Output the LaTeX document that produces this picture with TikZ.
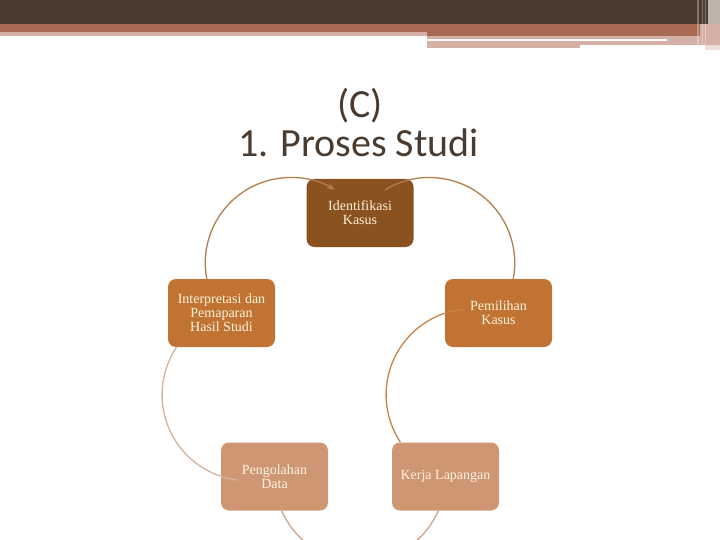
\documentclass[tikz,border=0pt]{standalone}
\usepackage{fontspec}
\setmainfont{Liberation Serif}
\newfontfamily\titlefont{Carlito}
\usetikzlibrary{calc,arrows.meta}
\definecolor{hdark}{HTML}{4B3B2F}
\definecolor{hrust}{HTML}{A86A53}
\definecolor{hpink}{HTML}{D4B0A6}
\definecolor{hgrey}{HTML}{BDB4AD}
\definecolor{hpale}{HTML}{EDE0DC}
\definecolor{titlebrown}{HTML}{4A3B30}
\definecolor{cdark}{HTML}{8A521E}
\definecolor{cmid}{HTML}{C17333}
\definecolor{clight}{HTML}{CF9674}
\definecolor{cream}{HTML}{FFF3DC}
\definecolor{arcA}{HTML}{B27C4D}
\definecolor{arcC}{HTML}{C8834A}
\definecolor{arcD}{HTML}{CFA58A}
\definecolor{arcE}{HTML}{D3B3A0}
\tikzset{
  box/.style={rounded corners=8pt, minimum width=107pt, minimum height=68pt,
    inner sep=0pt, align=center, text=cream, font=\fontsize{14}{14}\selectfont},
  titletext/.style={anchor=base, text=titlebrown, font=\titlefont\fontsize{40}{40}\selectfont},
  cyc/.style={line width=1.3pt}
}
\begin{document}
\begin{tikzpicture}[x=1pt,y=-1pt]
\useasboundingbox (0,0) rectangle (720,540);
\clip (0,0) rectangle (720,540);
% header
\fill[hdark] (0,0) rectangle (720,24);
\fill[hrust] (0,24) rectangle (720,32);
\fill[hrust] (427,32) rectangle (707,36.5);
\fill[hpink] (0,32) rectangle (427,36);
\fill[hpink] (427,36.5) rectangle (707,39);
\fill[white] (427,39) rectangle (667,41.5);
\fill[hpink] (667,39) rectangle (707,45.5);
\fill[hpink] (427,41.5) rectangle (580,48);
\fill[hpink] (580,41.5) rectangle (667,45.5);
\fill[hgrey] (708,0) rectangle (720,24);
\fill[hpink] (700,24) rectangle (720,45);
\fill[hpale] (705,45) rectangle (720,50);
\fill[white,opacity=.3] (697,0) rectangle (698.5,45);
\fill[white,opacity=.3] (702,0) rectangle (703,45);
\fill[white,opacity=.3] (705,0) rectangle (706,45);
% title
\node[titletext] (t1) at (360,118) {(C)};
\node[titletext] (t2) at (358.5,157) {1. Proses Studi};
% boxes
\node[box, fill=cdark] (iden) at (360,213) {Identifikasi\\Kasus};
\node[box, fill=cmid] (interp) at (221.5,313) {Interpretasi dan\\Pemaparan\\Hasil Studi};
\node[box, fill=cmid] (pem) at (498.5,313) {Pemilihan\\Kasus};
\node[box, fill=clight] (peng) at (274.5,476.5) {Pengolahan\\Data};
\node[box, fill=clight] (kerja) at (445.5,476.5) {Kerja Lapangan};
% arc centres
\coordinate (mA) at ($(interp.center)!0.5!(iden.center)$);
\coordinate (mB) at ($(iden.center)!0.5!(pem.center)$);
\coordinate (mC) at ($(pem.center)!0.5!(kerja.center)$);
\coordinate (mD) at ($(kerja.center)!0.5!(peng.center)$);
\coordinate (mE) at ($(peng.center)!0.5!(interp.center)$);
% arcs
\draw[cyc, arcA, -{Stealth[length=8pt,width=6pt]}] (mA) ++(169.2:85.5) arc[start angle=169.2, end angle=301, radius=85.5];
\draw[cyc, arcA] (mB) ++(238.8:85.5) arc[start angle=238.8, end angle=370.8, radius=85.5];
\draw[cyc, arcC] (mC) ++(265.4:85.9) arc[start angle=265.4, end angle=146.5, radius=85.9];
\draw[cyc, arcD] (mD) ++(23.8:85.5) arc[start angle=23.8, end angle=156.2, radius=85.5];
\draw[cyc, arcE] (mE) ++(96.8:85.9) arc[start angle=96.8, end angle=214, radius=85.9];
\end{tikzpicture}
\end{document}
